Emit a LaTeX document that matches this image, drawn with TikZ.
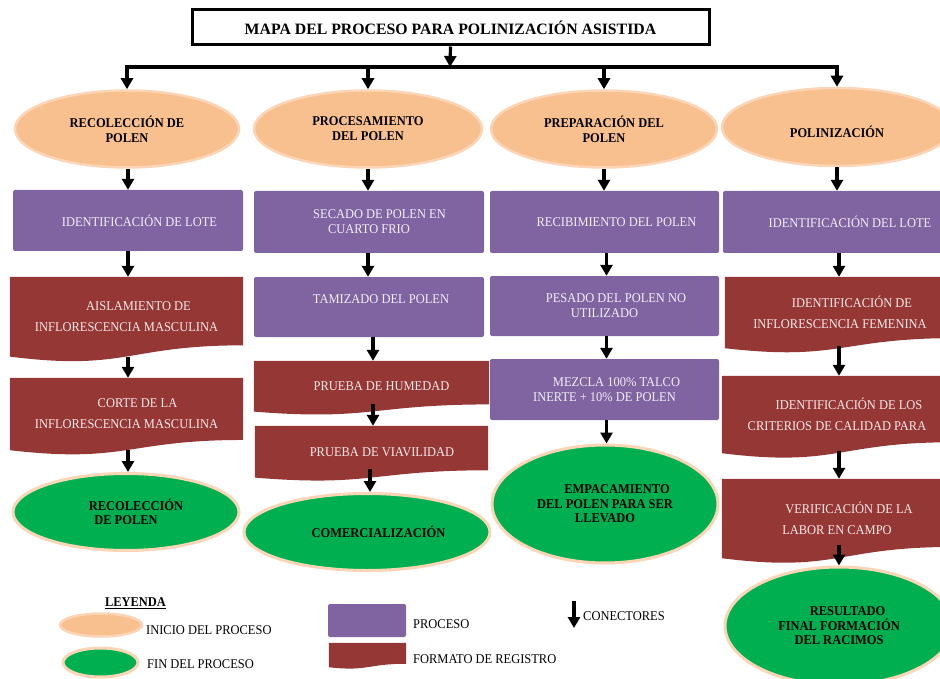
\documentclass[tikz,border=0pt]{standalone}
\usepackage{fontspec}
\setmainfont{Liberation Serif}[FakeStretch=0.93]
\newfontfamily\titlefont{Liberation Serif}
\usetikzlibrary{shapes.geometric,arrows.meta,calc}
\pgfdeclarelayer{bg}
\pgfsetlayers{bg,main}
\definecolor{orfill}{HTML}{F9C08F}
\definecolor{orline}{HTML}{FBD5B5}
\definecolor{grfill}{HTML}{00B050}
\definecolor{purp}{HTML}{8064A2}
\definecolor{purptext}{HTML}{F2EEF7}
\definecolor{docred}{HTML}{953735}
\definecolor{redtext}{HTML}{F7E9E9}
\newcommand\docfill[1]{%
  \begin{pgfonlayer}{bg}
  \fill[docred] let \p1=(#1.north west), \p2=(#1.south east), \n1={\y1-\y2} in
    (\x1,\y1) -- (\x2,\y1) -- (\x2,{\y1-0.8587*\n1})
    .. controls ({(\x1+\x2)/2},{\y1-0.8587*\n1}) and ({(\x1+\x2)/2},{\y1-1.1852*\n1}) .. (\x1,\y2) -- cycle;
  \end{pgfonlayer}}
\newcommand\upby[2]{\raisebox{#1}[\height][\depth]{#2}}
\begin{document}
\begin{tikzpicture}[x=1pt,y=-1pt,
  conn/.style={line width=3.2pt,-{Triangle[width=12pt,length=11pt]}},
  titlebox/.style={draw,line width=3pt,minimum width=517pt,minimum height=35pt,inner sep=0pt,font=\titlefont\bfseries\fontsize{15.8}{18}\selectfont},
  startell/.style={ellipse,fill=orfill,draw=orline,line width=2.5pt,inner sep=0pt,align=center,font=\bfseries\fontsize{13.4}{15}\selectfont,text=black},
  endell/.style={ellipse,fill=grfill,draw=orline,line width=3pt,inner sep=0pt,align=center,font=\bfseries\fontsize{13.4}{14.5}\selectfont,text=black},
  procbox/.style={rectangle,rounded corners=2pt,fill=purp,inner sep=0pt,align=center,text=purptext,font=\fontsize{13.4}{15}\selectfont},
  docbox/.style={rectangle,inner sep=0pt,align=center,text=redtext,font=\fontsize{13.4}{21}\selectfont},
  legtxt/.style={inner sep=0pt,font=\fontsize{13.4}{15}\selectfont}]
\useasboundingbox (0,0) rectangle (940,679);
\clip (0,0) rectangle (940,679);

% title
\node[titlebox] (title) at (450.5,27.5) {MAPA DEL PROCESO PARA POLINIZACIÓN ASISTIDA};
\coordinate (hub) at (450,67);

% start ellipses
\node[startell,minimum width=224pt,minimum height=77pt] (e1) at (127,129) {RECOLECCIÓN DE\\POLEN};
\node[startell,minimum width=228pt,minimum height=77pt] (e2) at (368,129) {PROCESAMIENTO\\DEL POLEN};
\node[startell,minimum width=226pt,minimum height=77pt] (e3) at (604,129) {PREPARACIÓN DEL\\POLEN};
\node[startell,minimum width=230pt,minimum height=78pt] (e4) at (837,127) {\upby{-4.5pt}{POLINIZACIÓN}};

% column 1
\node[procbox,minimum width=230pt,minimum height=61pt] (p11) at (128,220.5) {\hspace*{23pt}IDENTIFICACIÓN DE LOTE};
\node[docbox,minimum width=233pt,minimum height=79.4pt] (r11) at (126.5,316.7) {\hspace*{24pt}AISLAMIENTO DE\\INFLORESCENCIA MASCULINA};
\docfill{r11}
\node[docbox,minimum width=233pt,minimum height=72pt] (r12) at (126.5,414) {\hspace*{22pt}CORTE DE LA\\INFLORESCENCIA MASCULINA};
\docfill{r12}
\node[endell,minimum width=226pt,minimum height=77pt] (g1) at (126,512) {\hspace*{20pt}RECOLECCIÓN\\DE POLEN};

% column 2
\node[procbox,minimum width=230pt,minimum height=62pt] (p21) at (369,222) {\hspace*{21pt}SECADO DE POLEN EN\\CUARTO FRIO};
\node[procbox,minimum width=230pt,minimum height=60pt] (p22) at (369,307) {\upby{8pt}{\hspace*{24pt}TAMIZADO DEL POLEN}};
\node[docbox,minimum width=235pt,minimum height=50.4pt] (r21) at (371.5,386.2) {\hspace*{20pt}PRUEBA DE HUMEDAD};
\docfill{r21}
\node[docbox,minimum width=233pt,minimum height=51.4pt] (r22) at (371.5,451.7) {\hspace*{21pt}PRUEBA DE VIAVILIDAD};
\docfill{r22}
\node[endell,minimum width=246pt,minimum height=77pt] (g2) at (367,532) {\hspace*{23pt}COMERCIALIZACIÓN};

% column 3
\node[procbox,minimum width=229pt,minimum height=62pt] (p31) at (604.5,222) {\hspace*{24pt}RECIBIMIENTO DEL POLEN};
\node[procbox,minimum width=229pt,minimum height=60pt] (p32) at (604.5,306) {\hspace*{23pt}PESADO DEL POLEN NO\\UTILIZADO};
\node[procbox,minimum width=229pt,minimum height=61pt] (p33) at (604.5,389.5) {\hspace*{24pt}MEZCLA 100\% TALCO\\INERTE + 10\% DE POLEN};
\node[endell,minimum width=226pt,minimum height=118pt] (g3) at (605,504) {\hspace*{24pt}EMPACAMIENTO\\DEL POLEN PARA SER\\LLEVADO};

% column 4
\node[procbox,minimum width=230pt,minimum height=62pt] (p41) at (838,222) {\hspace*{24pt}IDENTIFICACIÓN DEL LOTE};
\node[docbox,minimum width=230pt,minimum height=71pt] (r41) at (840,312.5) {\hspace*{24pt}IDENTIFICACIÓN DE\\INFLORESCENCIA FEMENINA};
\docfill{r41}
\node[docbox,minimum width=230pt,minimum height=77pt] (r42) at (837,414.5) {\hspace*{24pt}IDENTIFICACIÓN DE LOS\\CRITERIOS DE CALIDAD PARA};
\docfill{r42}
\node[docbox,minimum width=230pt,minimum height=79pt] (r43) at (837,518.5) {\hspace*{24pt}VERIFICACIÓN DE LA\\LABOR EN CAMPO};
\docfill{r43}
\node[endell,minimum width=228pt,minimum height=118pt] (g4) at (839,626) {\hspace*{17pt}RESULTADO\\FINAL FORMACIÓN\\DEL RACIMOS};

% top connectors
\draw[conn] (title.south) -- (hub);
\draw[conn] (hub) -| (e1.north);
\draw[conn] (hub) -| (e2.north);
\draw[conn] (hub) -| (e3.north);
\draw[conn] (hub) -| (e4.north);

% column 1 connectors
\draw[conn] (e1.south -| p11) -- (p11.north);
\draw[conn] (p11.south) -- (r11.north -| p11);
\draw[conn] (r11.south -| p11) -- (r12.north -| p11);
\draw[conn] (r12.south -| p11) -- (g1.north -| p11);

% column 2 connectors
\draw[conn] (e2.south) -- (p21.north -| e2);
\draw[conn] (p21.south -| e2) -- (p22.north -| e2);
\draw[conn] ([xshift=4pt]p22.south) -- ([xshift=4pt]p22.south |- r21.north);
\draw[conn] ($(p22.south |- r21.south)+(4,-8)$) -- ([xshift=4pt]p22.south |- r22.north);
\draw[conn] ($(p22.south |- r22.south)+(1,-9)$) -- ([xshift=1pt]p22.south |- g2.north);

% column 3 connectors
\draw[conn] (e3.south) -- (e3.south |- p31.north);
\draw[conn] ([xshift=2pt]p31.south) -- ([xshift=2pt]p32.north);
\draw[conn] ([xshift=2pt]p32.south) -- ([xshift=2pt]p33.north);
\draw[conn] ([xshift=2pt]p33.south) -- ([xshift=2pt]p33.south |- g3.north);

% column 4 connectors
\draw[conn] (e4.south) -- (e4.south |- p41.north);
\draw[conn] ([xshift=1pt]p41.south) -- ([xshift=1pt]p41.south |- r41.north);
\draw[conn] ($(p41.south |- r41.south)+(1,-2)$) -- ([xshift=1pt]p41.south |- r42.north);
\draw[conn] ($(p41.south |- r42.south)+(1,-2)$) -- ([xshift=1pt]p41.south |- r43.north);
\draw[conn] ($(p41.south |- r43.south)+(1,-13)$) -- ([xshift=1pt]p41.south |- g4.north);

% legend
\node[font=\bfseries\fontsize{13.4}{15}\selectfont] (leg) at (135.5,603) {\underline{LEYENDA}};
\node[startell,minimum width=82pt,minimum height=23pt] (lg1) at (101,625) {};
\node[legtxt,anchor=west] (lt1) at (146,630) {INICIO DEL PROCESO};
\node[endell,minimum width=75pt,minimum height=29pt] (lg2) at (100.5,662.5) {};
\node[legtxt,anchor=west] (lt2) at (147,664) {FIN DEL PROCESO};
\node[procbox,minimum width=78pt,minimum height=33pt] (lg3) at (367,620.5) {};
\node[legtxt,anchor=west] (lt3) at (413,624) {PROCESO};
\node[docbox,minimum width=77pt,minimum height=24pt] (lg4) at (367.5,655) {};
\docfill{lg4}
\node[legtxt,anchor=west] (lt4) at (413,659) {FORMATO DE REGISTRO};
\coordinate (la1) at (574,601);
\coordinate (la2) at (574,628);
\draw[conn] (la1) -- (la2);
\node[legtxt,anchor=west] (lt5) at (583,616) {CONECTORES};
\end{tikzpicture}
\end{document}
